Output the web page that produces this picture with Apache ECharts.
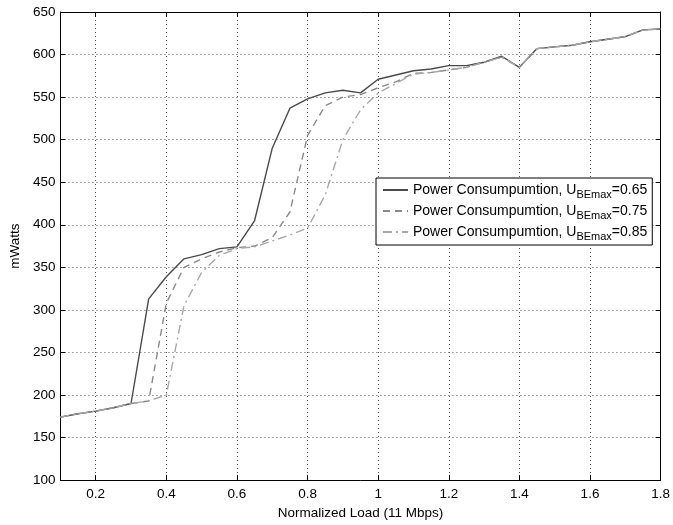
<!DOCTYPE html>
<html>
<head>
<meta charset="utf-8">
<script src="https://cdn.jsdelivr.net/npm/echarts@6/dist/echarts.min.js"></script>
<style>
  html, body { margin: 0; padding: 0; background: #fff; }
  #chart { width: 673px; height: 525px; }
</style>
</head>
<body>
<div id="chart"></div>
<script>
// Normalized load (fraction of 11 Mbps)
const loads = [0.1, 0.15, 0.2, 0.25, 0.3, 0.35, 0.4, 0.45, 0.5, 0.55, 0.6, 0.65, 0.7, 0.75, 0.8, 0.85,
  0.9, 0.95, 1.0, 1.05, 1.1, 1.15, 1.2, 1.25, 1.3, 1.35, 1.4, 1.45, 1.5, 1.55, 1.6, 1.65, 1.7, 1.75, 1.8];

// Power consumption (mW) for each U_BEmax threshold
const power065 = [174, 178, 181, 185, 190, 313, 339, 360, 365, 372, 374, 405, 490, 537, 548, 555,
  558, 555, 571, 576, 581, 583, 587, 587, 591, 598, 585, 607, 609, 611, 615, 618, 621, 629, 630];
const power075 = [174, 178, 181, 185, 190, 193, 308, 350, 360, 368, 373, 375, 385, 415, 505, 540,
  550, 553, 561, 568, 578, 579, 582, 585, 591, 597, 585, 607, 609, 611, 615, 618, 621, 629, 630];
const power085 = [174, 178, 181, 185, 190, 193, 200, 305, 344, 364, 372, 374, 381, 388, 396, 435,
  500, 535, 555, 566, 577, 579, 582, 585, 591, 597, 585, 607, 609, 611, 615, 618, 621, 629, 630];

const uValues = ['0.65', '0.75', '0.85'];
const xTicks = [0.2, 0.4, 0.6, 0.8, 1.0, 1.2, 1.4, 1.6, 1.8];

const FONT = "'Liberation Sans', Arial, Helvetica, sans-serif";
const gridDots = { color: '#555', width: 1, type: [1, 3] };

const chart = echarts.init(document.getElementById('chart'), null, { renderer: 'canvas' });

function seriesOf(name, values, color, dash) {
  return {
    name: name,
    type: 'line',
    symbol: 'none',
    data: loads.map((x, i) => [x, values[i]]),
    lineStyle: { color: color, width: 1.4, type: dash },
    itemStyle: { color: color, opacity: 0 },
    emphasis: { disabled: true },
    animation: false
  };
}

const baseX = {
  type: 'value',
  min: 0.1,
  max: 1.8,
  axisLine: { show: true, onZero: false, lineStyle: { color: '#000', width: 1 } }
};
const baseY = {
  type: 'value',
  min: 100,
  max: 650,
  interval: 50,
  axisLine: { show: true, onZero: false, lineStyle: { color: '#000', width: 1 } }
};

chart.setOption({
  backgroundColor: '#fff',
  animation: false,
  textStyle: { fontFamily: FONT },
  grid: { left: 57, right: 5, top: 12, bottom: 37, containLabel: false },
  legend: {
    orient: 'vertical',
    left: 376,
    top: 178,
    padding: [2, 5, 3, 6],
    itemGap: 1,
    itemWidth: 25,
    itemHeight: 12,
    borderColor: '#000',
    borderWidth: 1,
    backgroundColor: '#fff',
    selectedMode: false,
    itemStyle: { opacity: 0 },
    data: uValues.map(u => 'U' + u),
    formatter: name => '{a|Power Consumpumtion, U}{b|BEmax}{a|=' + name.slice(1) + '}',
    textStyle: {
      fontFamily: FONT,
      color: '#000',
      rich: {
        a: { fontSize: 14, fontFamily: FONT, color: '#000', lineHeight: 19 },
        b: { fontSize: 11, fontFamily: FONT, color: '#000', lineHeight: 19, padding: [9, 0, 0, 0] }
      }
    }
  },
  xAxis: [
    Object.assign({}, baseX, {
      position: 'bottom',
      name: 'Normalized Load (11 Mbps)',
      nameLocation: 'middle',
      nameGap: 25,
      nameTextStyle: { fontSize: 13.5, color: '#000', fontFamily: FONT },
      axisTick: { show: true, inside: true, length: 5, customValues: xTicks, lineStyle: { color: '#000' } },
      axisLabel: { show: true, margin: 7, fontSize: 13.5, color: '#000', fontFamily: FONT,
        customValues: xTicks, formatter: v => String(Math.round(v * 10) / 10) },
      splitLine: { show: true, lineStyle: gridDots }
    }),
    Object.assign({}, baseX, {
      position: 'top',
      axisTick: { show: true, inside: true, length: 5, customValues: xTicks, lineStyle: { color: '#000' } },
      axisLabel: { show: false, customValues: xTicks },
      splitLine: { show: false }
    })
  ],
  yAxis: [
    Object.assign({}, baseY, {
      position: 'left',
      name: 'mWatts',
      nameLocation: 'middle',
      nameGap: 33,
      nameTextStyle: { fontSize: 13.5, color: '#000', fontFamily: FONT },
      axisTick: { show: true, inside: true, length: 5, lineStyle: { color: '#000' } },
      axisLabel: { show: true, margin: 5, fontSize: 13.5, color: '#000', fontFamily: FONT },
      splitLine: { show: true, lineStyle: gridDots }
    }),
    Object.assign({}, baseY, {
      position: 'right',
      axisTick: { show: true, inside: true, length: 5, lineStyle: { color: '#000' } },
      axisLabel: { show: false },
      splitLine: { show: false }
    })
  ],
  series: [
    seriesOf('U' + uValues[0], power065, '#4a4a4a', 'solid'),
    seriesOf('U' + uValues[1], power075, '#8a8a8a', [7, 5]),
    seriesOf('U' + uValues[2], power085, '#a8a8a8', [9, 4, 2, 4])
  ]
});
</script>
</body>
</html>
